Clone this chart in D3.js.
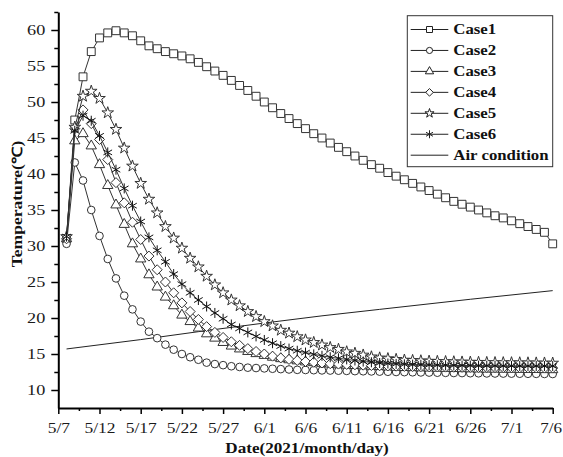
<!DOCTYPE html>
<html><head><meta charset="utf-8">
<script src="https://cdn.jsdelivr.net/npm/d3@7/dist/d3.min.js"></script>
<style>body{margin:0;background:#fff}svg{display:block}</style>
</head><body>
<svg id="c" width="563" height="457"></svg>
<script>
const tickLabels = ["5/7","5/12","5/17","5/22","5/27","6/1","6/6","6/11","6/16","6/21","6/26","7/1","7/6"];
const yTicks = [10,15,20,25,30,35,40,45,50,55,60];
const yMinorTicks = [12.5,17.5,22.5,27.5,32.5,37.5,42.5,47.5,52.5,57.5,62.5];
const seriesNames = ["Case1","Case2","Case3","Case4","Case5","Case6"];
const case1 = [31.0,47.5,53.5,57.0,58.9,59.6,59.9,59.6,59.2,58.5,57.8,57.4,57.0,56.7,56.4,56.0,55.5,54.9,54.3,53.7,53.0,52.3,51.6,50.8,50.0,49.2,48.4,47.7,47.0,46.3,45.6,45.0,44.3,43.7,43.1,42.5,41.9,41.3,40.8,40.2,39.7,39.2,38.7,38.2,37.7,37.2,36.7,36.2,35.8,35.4,35.0,34.6,34.2,33.9,33.5,33.1,32.7,32.3,31.9,30.3];
const case2 = [30.3,41.6,39.1,35.0,31.4,28.2,25.5,23.1,21.2,19.5,18.1,17.2,16.3,15.6,15.0,14.55,14.2,13.8,13.6,13.45,13.3,13.2,13.1,13.05,13.0,12.95,12.9,12.85,12.8,12.78,12.75,12.72,12.7,12.68,12.65,12.62,12.6,12.58,12.55,12.53,12.5,12.48,12.46,12.44,12.42,12.4,12.38,12.36,12.35,12.33,12.32,12.3,12.29,12.28,12.27,12.26,12.25,12.24,12.23,12.22];
const case3 = [31.0,44.6,45.6,43.9,41.3,38.4,35.7,33.0,30.3,28.2,26.0,24.3,22.9,21.7,20.4,19.5,18.6,17.8,17.2,16.6,16.1,15.7,15.35,15.05,14.8,14.55,14.35,14.2,14.05,13.9,13.8,13.7,13.6,13.5,13.45,13.4,13.35,13.3,13.25,13.2,13.15,13.12,13.1,13.07,13.05,13.02,13.0,12.98,12.96,12.94,12.92,12.9,12.89,12.88,12.87,12.86,12.85,12.84,12.83,12.82];
const case4 = [31.0,46.3,48.9,47.0,44.8,42.0,38.8,36.0,33.3,30.9,28.6,26.7,25.0,23.5,22.1,20.9,19.8,18.8,18.0,17.3,16.7,16.2,15.75,15.35,15.0,14.7,14.45,14.25,14.1,13.95,13.85,13.75,13.65,13.6,13.55,13.5,13.45,13.4,13.37,13.34,13.31,13.28,13.26,13.24,13.22,13.2,13.18,13.16,13.15,13.14,13.13,13.12,13.11,13.1,13.09,13.08,13.07,13.06,13.05,13.05];
const case5 = [31.3,46.5,50.8,51.5,50.5,48.5,46.2,43.6,41.1,38.7,36.5,34.6,32.7,31.1,29.7,28.3,27.1,25.8,24.6,23.5,22.5,21.7,20.9,20.2,19.5,18.9,18.3,17.9,17.4,16.95,16.6,16.25,15.9,15.65,15.3,15.1,14.85,14.6,14.45,14.35,14.25,14.15,14.1,14.05,14.0,13.97,13.94,13.91,13.88,13.86,13.84,13.82,13.8,13.79,13.78,13.77,13.76,13.75,13.74,13.73];
const case6 = [31.3,46.0,48.1,47.4,45.3,43.0,40.6,38.0,35.6,33.4,31.2,29.4,27.8,26.1,24.7,23.5,22.5,21.6,20.7,19.9,19.1,18.55,18.0,17.45,16.95,16.5,16.1,15.75,15.45,15.2,14.95,14.75,14.55,14.4,14.25,14.1,13.95,13.85,13.75,13.68,13.62,13.57,13.53,13.5,13.47,13.45,13.43,13.41,13.4,13.39,13.38,13.37,13.36,13.35,13.35,13.34,13.34,13.33,13.33,13.33];
const airDays = [1,10,17,25,32,39,50,60];
const airTemp = [15.7,17.0,18.1,19.3,20.3,21.2,22.6,23.8];

const FONT = "'Liberation Serif','Times New Roman',serif";
const svg = d3.select("#c");
const x = d3.scaleLinear().domain([0,60]).range([58.3,552.7]);
const y = d3.scaleLinear().domain([7.5,62.5]).range([408,12]);

// markers
const squareP = d3.symbol().type(d3.symbolSquare).size(62)();
const squareS = d3.symbol().type(d3.symbolSquare).size(36)();
const circleP = d3.symbol().type(d3.symbolCircle).size(46)();
const circleS = d3.symbol().type(d3.symbolCircle).size(30)();
const triP = d3.symbol().type(d3.symbolTriangle).size(46)();
const triS = d3.symbol().type(d3.symbolTriangle).size(30)();
function diamond(r){return `M0,${-r}L${r},0L0,${r}L${-r},0Z`;}
const starP = d3.symbol().type(d3.symbolStar).size(42)();
const starS = d3.symbol().type(d3.symbolStar).size(26)();
function aster(r){
  const a = r*Math.cos(Math.PI/6), b = r*Math.sin(Math.PI/6);
  return `M0,${-r}L0,${r}M${-a},${-b}L${a},${b}M${-a},${b}L${a},${-b}`;
}
const shapes = [
  {p:squareP, s:squareS},
  {p:circleP, s:circleS},
  {p:triP, s:triS},
  {p:diamond(5), s:diamond(3.8)},
  {p:starP, s:starS},
  {p:aster(5), s:aster(4)}
];
const seriesData = [case1,case2,case3,case4,case5,case6];

const line = d3.line().x(d=>x(d[0])).y(d=>y(d[1]));
const plot = svg.append("g");

// air condition line
plot.append("path").datum(airDays.map((d,i)=>[d,airTemp[i]]))
  .attr("d",line).attr("fill","none").attr("stroke","#222").attr("stroke-width",1);

seriesData.forEach((vals,si)=>{
  const pts = vals.map((v,i)=>[i+1,v]);
  const g = plot.append("g");
  g.append("path").datum(pts).attr("d",line).attr("fill","none")
    .attr("stroke","#333").attr("stroke-width",1);
  g.selectAll("path.m").data(pts).enter().append("path").attr("class","m")
    .attr("d",shapes[si].p)
    .attr("transform",d=>`translate(${x(d[0])},${y(d[1])})`)
    .attr("fill", si===5 ? "none" : "#fff")
    .attr("stroke", si===5 ? "#111" : "#333").attr("stroke-width",1);
});

// axes
const xAxis = d3.axisBottom(x).tickValues(tickLabels.map((d,i)=>i*5))
  .tickFormat((d,i)=>tickLabels[i]).tickSize(6).tickSizeOuter(0);
const xMinor = d3.axisBottom(x).tickValues(tickLabels.slice(1).map((d,i)=>i*5+2.5))
  .tickFormat("").tickSize(3).tickSizeOuter(0);
const yAxis = d3.axisLeft(y).tickValues(yTicks).tickSize(7).tickSizeOuter(0);
const yMinor = d3.axisLeft(y).tickValues(yMinorTicks).tickFormat("").tickSize(4).tickSizeOuter(0);

const gx = svg.append("g").attr("transform","translate(0,408)").call(xAxis);
svg.append("g").attr("transform","translate(0,408)").call(xMinor).select(".domain").remove();
const gy = svg.append("g").attr("transform","translate(58.3,0)").call(yAxis);
svg.append("g").attr("transform","translate(58.3,0)").call(yMinor).select(".domain").remove();

[gx,gy].forEach(g=>{
  g.select(".domain").attr("stroke","#000").attr("stroke-width",2);
});
svg.selectAll(".tick line").attr("stroke","#000").attr("stroke-width",1.5);
const nX = tickLabels.length;
gx.selectAll(".tick text").attr("y",0).attr("dy",0)
  .attr("transform",(d,i)=> i===nX-1 ? "translate(-2,25) scale(1.22,1)" : "translate(0,25) scale(1.25,1)")
  .attr("font-family",FONT).attr("font-size",14).attr("fill","#1a1a1a");
gy.selectAll(".tick text").attr("x",0)
  .attr("transform","translate(-13,0) scale(1.3,1)")
  .attr("font-family",FONT).attr("font-size",14).attr("fill","#1a1a1a");

// axis titles
svg.append("text").text("Date(2021/month/day)")
  .attr("transform","translate(307,453) scale(1.18,1)")
  .attr("text-anchor","middle").attr("font-family",FONT).attr("font-weight","bold")
  .attr("font-size",14.5).attr("fill","#111");
svg.append("text").text("Temperature(℃)")
  .attr("transform","translate(22,204) rotate(-90) scale(1.25,1)")
  .attr("text-anchor","middle").attr("font-family",FONT).attr("font-weight","bold")
  .attr("font-size",14).attr("fill","#111");

// legend
const leg = svg.append("g");
leg.append("rect").attr("x",407.3).attr("y",15.7).attr("width",145.4).attr("height",151)
  .attr("fill","#fff").attr("stroke","#333").attr("stroke-width",1);
const legNames = seriesNames.concat(["Air condition"]);
legNames.forEach((n,i)=>{
  const cy = 29.5 + i*20.95;
  leg.append("line").attr("x1",410.7).attr("x2",448.3).attr("y1",cy).attr("y2",cy)
    .attr("stroke","#222").attr("stroke-width",1);
  if(i<6){
    leg.append("path").attr("d",shapes[i].s).attr("transform",`translate(429.5,${cy})`)
      .attr("fill", i===5?"none":"#fff").attr("stroke","#222").attr("stroke-width",1);
  }
  leg.append("text").text(n).attr("transform",`translate(453.3,${cy+4.8}) scale(1.2,1)`)
    .attr("font-family",FONT).attr("font-weight","bold").attr("font-size",14).attr("fill","#111");
});
</script>
</body></html>
